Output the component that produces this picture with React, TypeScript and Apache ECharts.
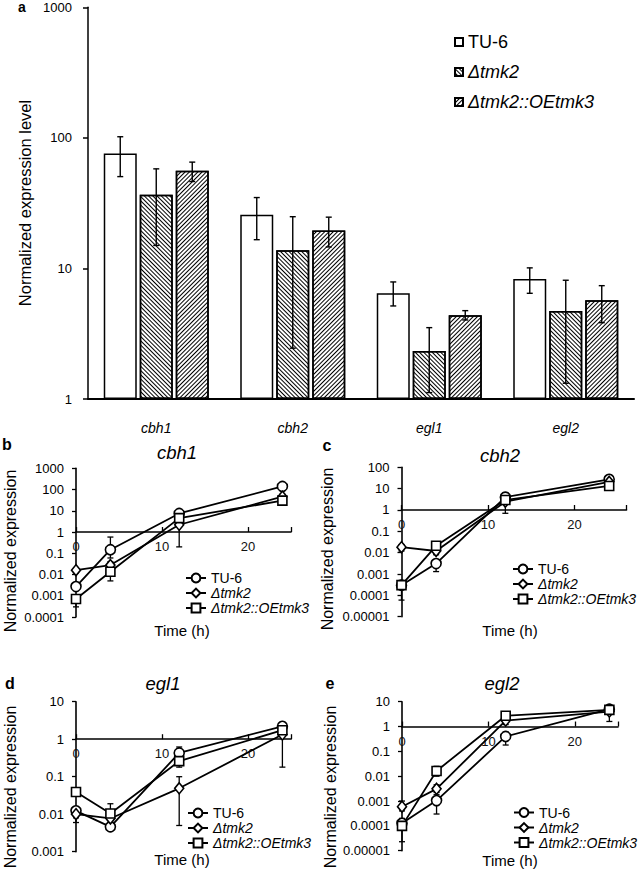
import React, { useEffect, useRef } from "react";
import * as echarts from "echarts";

// ---------- data ----------
const genes = ["cbh1", "cbh2", "egl1", "egl2"];
const strains = ["TU-6", "Δtmk2", "Δtmk2::OEtmk3"];

// panel a: bars (normalized expression level)
const barTU6 = [76, 25.8, 6.45, 8.3];
const barTmk2 = [36.6, 13.8, 2.33, 4.72];
const barOE = [55.9, 19.5, 4.38, 5.7];
const barTU6Lo = [50.5, 16.6, 5.16, 6.45];
const barTU6Hi = [102, 34.9, 7.88, 10.1];
const barTmk2Lo = [15.0, 2.45, 1.12, 1.32];
const barTmk2Hi = [57.9, 24.9, 3.52, 8.12];
const barOELo = [46.3, 14.6, 4.03, 3.84];
const barOEHi = [65.2, 24.7, 4.75, 7.38];

// panels b-e: time courses
const hours = [0, 4, 12, 24];
const xTicks = [0, 10, 20];

const cbh1TU6 = [0.0027, 0.147, 7.5, 140];
const cbh1Tmk2 = [0.016, 0.028, 2.2, 46];
const cbh1OE = [0.0007, 0.0135, 4.5, 30];
const cbh1TU6Lo = [0.0018, 0.06, 5, 110];
const cbh1TU6Hi = [0.0038, 0.58, 10, 180];
const cbh1Tmk2Lo = [0.012, 0.02, 0.2, 35];
const cbh1Tmk2Hi = [0.02, 0.04, 4.5, 60];
const cbh1OELo = [0.0003, 0.005, 3, 20];
const cbh1OEHi = [0.001, 0.025, 6.5, 40];

const cbh2TU6 = [0.0003, 0.0031, 4, 27.5];
const cbh2Tmk2 = [0.018, 0.012, 2.45, 21];
const cbh2OE = [0.0003, 0.021, 2.95, 13.4];
const cbh2TU6Lo = [0.0002, 0.0013, 3, 22];
const cbh2TU6Hi = [0.0004, 0.0045, 5, 33];
const cbh2Tmk2Lo = [0.012, 0.008, 0.7, 17];
const cbh2Tmk2Hi = [0.024, 0.016, 4.5, 26];
const cbh2OELo = [0.00006, 0.012, 2, 10];
const cbh2OEHi = [0.0005, 0.03, 4, 17];

const egl1TU6 = [0.0123, 0.0046, 0.43, 2.2];
const egl1Tmk2 = [0.01, 0.0077, 0.049, 1.33];
const egl1OE = [0.039, 0.0104, 0.26, 1.74];
const egl1TU6Lo = [0.006, 0.0038, 0.25, 1.6];
const egl1TU6Hi = [0.015, 0.0055, 0.62, 2.7];
const egl1Tmk2Lo = [0.008, 0.006, 0.005, 0.18];
const egl1Tmk2Hi = [0.012, 0.009, 0.1, 2.5];
const egl1OELo = [0.03, 0.006, 0.18, 1.3];
const egl1OEHi = [0.05, 0.019, 0.35, 2.3];

const egl2TU6 = [0.000127, 0.00104, 0.4, 5.0];
const egl2Tmk2 = [0.00059, 0.0031, 1.74, 4.0];
const egl2OE = [0.0001, 0.0163, 2.7, 4.7];
const egl2TU6Lo = [0.000023, 0.0003, 0.18, 3.5];
const egl2TU6Hi = [0.0002, 0.0018, 0.6, 6.5];
const egl2Tmk2Lo = [0.0004, 0.0022, 1.2, 1.6];
const egl2Tmk2Hi = [0.001, 0.0045, 2.3, 6];
const egl2OELo = [0.00007, 0.01, 2, 3.5];
const egl2OEHi = [0.00014, 0.025, 3.4, 6.5];

// ---------- layout / style ----------
const FONT = "'Liberation Sans', Arial, sans-serif";
const BAR_W = 33;
const BAR_GAP = 3;
const ZW = "\u200b";
const INK = "#111111";

const logFmt = (v: number) => {
  const e = Math.round(Math.log10(v));
  return e >= 0 ? String(Math.pow(10, e)) : Math.pow(10, e).toFixed(-e);
};

const panels = [
  {
    letter: "b", gene: "cbh1",
    grid: { left: 76, top: 468.3, width: 215, height: 148.7 },
    yMin: 1e-4, yMax: 1e3, xMax: 25,
    vals: [cbh1TU6, cbh1Tmk2, cbh1OE],
    lo: [cbh1TU6Lo, cbh1Tmk2Lo, cbh1OELo],
    hi: [cbh1TU6Hi, cbh1Tmk2Hi, cbh1OEHi],
    legend: [180, 565.5], title: [177, 452], letterPos: [7, 444],
    yName: [10, 551], xName: [182, 630],
  },
  {
    letter: "c", gene: "cbh2",
    grid: { left: 401.5, top: 467.3, width: 225, height: 149.4 },
    yMin: 1e-5, yMax: 1e2, xMax: 26,
    vals: [cbh2TU6, cbh2Tmk2, cbh2OE],
    lo: [cbh2TU6Lo, cbh2Tmk2Lo, cbh2OELo],
    hi: [cbh2TU6Hi, cbh2Tmk2Hi, cbh2OEHi],
    legend: [507, 556.5], title: [500, 455], letterPos: [327, 445],
    yName: [327, 549], xName: [510, 630],
  },
  {
    letter: "d", gene: "egl1",
    grid: { left: 76, top: 701.7, width: 215, height: 150 },
    yMin: 1e-3, yMax: 1e1, xMax: 25,
    vals: [egl1TU6, egl1Tmk2, egl1OE],
    lo: [egl1TU6Lo, egl1Tmk2Lo, egl1OELo],
    hi: [egl1TU6Hi, egl1Tmk2Hi, egl1OEHi],
    legend: [182, 800.5], title: [163, 683], letterPos: [10, 683],
    yName: [10, 787], xName: [182, 859],
  },
  {
    letter: "e", gene: "egl2",
    grid: { left: 402, top: 701.7, width: 216, height: 149 },
    yMin: 1e-5, yMax: 1e1, xMax: 25,
    vals: [egl2TU6, egl2Tmk2, egl2OE],
    lo: [egl2TU6Lo, egl2Tmk2Lo, egl2OELo],
    hi: [egl2TU6Hi, egl2Tmk2Hi, egl2OEHi],
    legend: [508, 800], title: [502, 683], letterPos: [330, 683],
    yName: [330, 787], xName: [510, 860],
  },
];

const symbols = ["circle", "diamond", "rect"];
const symbolSizes: any[] = [10, [9, 11], 9];

const legendFmt = (name: string) => {
  const n = name.replace(/\u200b/g, "");
  return n === "TU-6" ? n : `{i|${n}}`;
};

function buildOption() {
  const grids: any[] = [{ left: 88, top: 7.3, width: 546, height: 391.7 }];
  const xAxes: any[] = [
    {
      type: "category", gridIndex: 0, data: genes,
      axisLine: { lineStyle: { color: "#000", width: 2 } },
      axisTick: { show: false },
      axisLabel: { fontStyle: "italic", fontSize: 14, color: "#000", margin: 22, fontFamily: FONT },
    },
  ];
  const yAxes: any[] = [
    {
      type: "log", logBase: 10, gridIndex: 0, min: 1, max: 1000,
      axisLine: { show: true, lineStyle: { color: "#000", width: 1.5 } },
      axisTick: { show: true, length: 5, lineStyle: { color: "#000", width: 1.5 } },
      splitLine: { show: false },
      axisLabel: { fontSize: 13, color: "#000", margin: 16, formatter: logFmt, fontFamily: FONT },
    },
  ];
  const decalBase = { symbol: "rect", symbolSize: 1, color: "#000", dashArrayX: [1, 0], dashArrayY: [1, 2] };
  const barStyle = { color: "#fff", borderColor: "#000", borderWidth: 1.5 };
  const barVals = [barTU6, barTmk2, barOE];
  const barLo = [barTU6Lo, barTmk2Lo, barOELo];
  const barHi = [barTU6Hi, barTmk2Hi, barOEHi];
  const decals: any[] = [null, { ...decalBase, rotation: Math.PI / 4 }, { ...decalBase, rotation: -Math.PI / 4 }];

  const series: any[] = [];
  strains.forEach((s, k) => {
    series.push({
      type: "bar", name: s, xAxisIndex: 0, yAxisIndex: 0,
      barWidth: BAR_W, barGap: `${(BAR_GAP / BAR_W) * 100}%`,
      data: barVals[k],
      itemStyle: decals[k] ? { ...barStyle, decal: decals[k] } : barStyle,
      silent: true, z: 2,
    });
  });
  const barErrData: any[] = [];
  strains.forEach((s, k) => {
    genes.forEach((g, i) => barErrData.push([i, barLo[k][i], barHi[k][i], k]));
  });
  series.push({
    type: "custom", xAxisIndex: 0, yAxisIndex: 0, silent: true, z: 5,
    data: barErrData,
    encode: { x: 0, y: [1, 2] },
    renderItem: (params: any, api: any) => {
      const x = api.value(0), lo = api.value(1), hi = api.value(2), k = api.value(3);
      const a = api.coord([x, lo]);
      const b = api.coord([x, hi]);
      const cx = a[0] + (k - 1) * (BAR_W + BAR_GAP);
      const st = { stroke: "#000", lineWidth: 1.4 };
      const c = 3;
      return {
        type: "group",
        children: [
          { type: "line", shape: { x1: cx, y1: a[1], x2: cx, y2: b[1] }, style: st },
          { type: "line", shape: { x1: cx - c, y1: a[1], x2: cx + c, y2: a[1] }, style: st },
          { type: "line", shape: { x1: cx - c, y1: b[1], x2: cx + c, y2: b[1] }, style: st },
        ],
      };
    },
  });

  const legends: any[] = [
    {
      left: 449, top: 27, orient: "vertical", icon: "rect", itemWidth: 8, itemHeight: 8, itemGap: 10,
      selectedMode: false, data: strains, formatter: legendFmt,
      textStyle: { fontSize: 18, lineHeight: 20, color: "#000", fontFamily: FONT,
        rich: { i: { fontStyle: "italic", fontSize: 18, lineHeight: 20, color: "#000", fontFamily: FONT } } },
    },
  ];

  const graphics: any[] = [
    { type: "text", x: 22, y: 7, style: { text: "a", fontSize: 14, fontWeight: "bold", fill: "#000", fontFamily: FONT, textAlign: "center", textVerticalAlign: "middle" } },
    { type: "text", x: 25, y: 203, rotation: Math.PI / 2, style: { text: "Normalized expression level", fontSize: 16.5, fill: "#000", fontFamily: FONT, textAlign: "center", textVerticalAlign: "middle" } },
  ];

  panels.forEach((p, idx) => {
    const gi = idx + 1;
    grids.push(p.grid);
    const span = Math.log10(p.yMax) - Math.log10(p.yMin);
    const offset = -p.grid.height * (0 - Math.log10(p.yMin)) / span;
    xAxes.push({
      type: "value", gridIndex: gi, min: 0, max: p.xMax, interval: 10,
      position: "bottom", offset,
      axisLine: { onZero: false, lineStyle: { color: "#000", width: 1.6 } },
      axisTick: { show: true, inside: true, length: 5, lineStyle: { color: "#000", width: 1.3 } },
      axisLabel: {
        fontSize: 13, color: INK, margin: 8, fontFamily: FONT,
        formatter: (v: number) => (xTicks.includes(v) ? String(v) : ""),
      },
      splitLine: { show: false },
    });
    yAxes.push({
      type: "log", logBase: 10, gridIndex: gi, min: p.yMin, max: p.yMax,
      axisLine: { show: true, onZero: false, lineStyle: { color: "#000", width: 1.6 } },
      axisTick: { show: true, length: 4, lineStyle: { color: "#000", width: 1.3 } },
      splitLine: { show: false },
      axisLabel: { fontSize: 13, color: "#000", margin: 12, formatter: logFmt, fontFamily: FONT },
    });
    const names = strains.map((s) => s + ZW.repeat(gi));
    const errData: any[] = [];
    strains.forEach((s, k) => {
      series.push({
        type: "line", name: names[k], xAxisIndex: gi, yAxisIndex: gi,
        data: hours.map((h, i) => [h, p.vals[k][i]]),
        symbol: symbols[k], symbolSize: symbolSizes[k], showSymbol: true,
        itemStyle: { color: "#fff", borderColor: "#000", borderWidth: 1.6 },
        lineStyle: { color: "#000", width: 1.8 },
        silent: true, z: 4,
      });
      hours.forEach((h, i) => errData.push([h, p.lo[k][i], p.hi[k][i]]));
    });
    series.push({
      type: "custom", xAxisIndex: gi, yAxisIndex: gi, silent: true, z: 3,
      data: errData, encode: { x: 0, y: [1, 2] },
      renderItem: (params: any, api: any) => {
        const x = api.value(0), lo = api.value(1), hi = api.value(2);
        const a = api.coord([x, lo]);
        const b = api.coord([x, hi]);
        const st = { stroke: "#000", lineWidth: 1.3 };
        const c = 3;
        return {
          type: "group",
          children: [
            { type: "line", shape: { x1: a[0], y1: a[1], x2: b[0], y2: b[1] }, style: st },
            { type: "line", shape: { x1: a[0] - c, y1: a[1], x2: a[0] + c, y2: a[1] }, style: st },
            { type: "line", shape: { x1: b[0] - c, y1: b[1], x2: b[0] + c, y2: b[1] }, style: st },
          ],
        };
      },
    });
    legends.push({
      left: p.legend[0], top: p.legend[1], orient: "vertical", itemWidth: 20, itemHeight: 11, itemGap: 0,
      selectedMode: false, data: names, formatter: legendFmt,
      textStyle: { fontSize: 14, lineHeight: 15, color: "#000", fontFamily: FONT,
        rich: { i: { fontStyle: "italic", fontSize: 14, lineHeight: 15, color: "#000", fontFamily: FONT } } },
    });
    graphics.push(
      { type: "text", x: p.letterPos[0], y: p.letterPos[1], style: { text: p.letter, fontSize: 16, fontWeight: "bold", fill: "#000", fontFamily: FONT, textAlign: "center", textVerticalAlign: "middle" } },
      { type: "text", x: p.title[0], y: p.title[1], style: { text: p.gene, fontSize: 18.5, fontStyle: "italic", fill: "#000", fontFamily: FONT, textAlign: "center", textVerticalAlign: "middle" } },
      { type: "text", x: p.yName[0], y: p.yName[1], rotation: Math.PI / 2, style: { text: "Normalized expression", fontSize: 16, fill: "#000", fontFamily: FONT, textAlign: "center", textVerticalAlign: "middle" } },
      { type: "text", x: p.xName[0], y: p.xName[1], style: { text: "Time (h)", fontSize: 15, fill: "#000", fontFamily: FONT, textAlign: "center", textVerticalAlign: "middle" } },
    );
  });

  return {
    animation: false,
    backgroundColor: "#fff",
    textStyle: { fontFamily: FONT },
    grid: grids,
    xAxis: xAxes,
    yAxis: yAxes,
    legend: legends,
    series,
    graphic: graphics,
  };
}

export default function App() {
  const ref = useRef<HTMLDivElement>(null);
  useEffect(() => {
    if (!ref.current) return;
    const chart = echarts.init(ref.current, null, { renderer: "svg" });
    chart.setOption(buildOption() as any);
    return () => chart.dispose();
  }, []);
  return (
    <div
      ref={ref}
      style={{ position: "absolute", left: 0, top: 0, width: 638, height: 873, background: "#fff" }}
    />
  );
}
